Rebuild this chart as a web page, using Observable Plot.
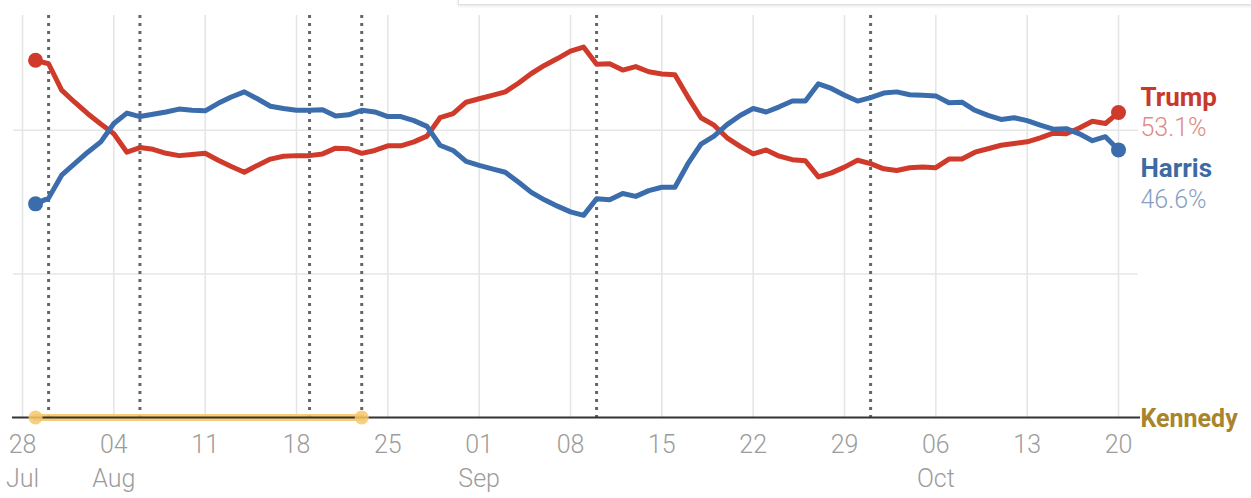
<!DOCTYPE html>
<html><head><meta charset="utf-8">
<script src="https://cdn.jsdelivr.net/npm/d3@7"></script>
<script src="https://cdn.jsdelivr.net/npm/@observablehq/plot@0.6"></script>
<style>
body{margin:0;background:#fff;font-family:Roboto,sans-serif;}
#wrap{position:relative;width:1251px;height:498px;overflow:hidden;background:#fff;}
#topbox{position:absolute;left:458px;top:-8px;width:820px;height:11px;border:1px solid #e2e2e2;background:#fff;box-shadow:0 1px 3px rgba(0,0,0,0.12);}
</style></head><body><div id="wrap"><div id="chart"></div><div id="topbox"></div></div>
<script>
// Daily values from 2024-07-29 to 2024-10-20 (%)
const firstDay = "2024-07-29";
const trump = [62.2,61.6,57.0,54.9,52.9,51.1,49.4,46.2,47.0,46.7,46.0,45.6,45.8,46.0,44.8,43.7,42.7,43.9,45.0,45.5,45.6,45.6,45.9,46.9,46.8,46.0,46.5,47.3,47.3,48.0,49.0,52.2,52.9,54.9,55.5,56.1,56.7,58.2,59.9,61.3,62.5,63.8,64.5,61.5,61.6,60.5,61.1,60.2,59.8,59.7,55.8,52.2,50.9,48.7,47.2,45.9,46.6,45.5,44.9,44.7,41.9,42.6,43.6,44.8,44.2,43.3,43.0,43.5,43.6,43.5,45.0,45.0,46.2,46.8,47.4,47.7,48.0,48.7,49.5,49.4,50.4,51.6,51.2,53.1];
const harris = [37.2,38.2,42.2,44.2,46.2,48.0,51.2,53.0,52.4,52.8,53.2,53.7,53.5,53.4,54.7,55.8,56.7,55.5,54.2,53.8,53.5,53.5,53.6,52.5,52.7,53.5,53.2,52.4,52.4,51.7,50.7,47.4,46.5,44.6,43.9,43.3,42.7,41.0,39.2,37.9,36.8,35.8,35.2,38.1,37.9,39.0,38.5,39.5,40.1,40.1,44.2,47.6,49.0,51.0,52.6,53.8,53.2,54.1,55.1,55.1,58.1,57.3,56.1,55.1,55.7,56.5,56.7,56.2,56.1,56.0,54.8,54.9,53.5,52.6,51.9,52.2,51.7,50.9,50.2,50.3,49.4,48.2,48.9,46.6];
const kennedyDates = ["2024-07-29","2024-08-23"];
const kennedyValues = [0,0];
const seriesNames = ["Trump","Harris","Kennedy"];
const seriesLabels = ["53.1%","46.6%"];
const tickDays = ["2024-07-28","2024-08-04","2024-08-11","2024-08-18","2024-08-25","2024-09-01","2024-09-08","2024-09-15","2024-09-22","2024-09-29","2024-10-06","2024-10-13","2024-10-20"];
const monthTickDays = ["2024-07-28","2024-08-04","2024-09-01","2024-10-06"];
const eventDays = ["2024-07-30","2024-08-06","2024-08-19","2024-08-23","2024-09-10","2024-10-01"];
const gridValues = [25,50];

const parse = d3.utcParse("%Y-%m-%d");
const RED = "#d03a2a", BLUE = "#3b6cab", GOLD = "#f6c86c";
const start = parse(firstDay);
const dates = trump.map((_, i) => d3.utcDay.offset(start, i));
const trumpRows = dates.map((d, i) => ({date: d, value: trump[i]}));
const harrisRows = dates.map((d, i) => ({date: d, value: harris[i]}));
const kennedyRows = kennedyDates.map((d, i) => ({date: parse(d), value: kennedyValues[i]}));
const ticks = tickDays.map(parse);
const monthTicks = monthTickDays.map(parse);
const events = eventDays.map(parse);
const tEnd = trumpRows[trumpRows.length - 1], hEnd = harrisRows[harrisRows.length - 1];
const kEnd = {date: tEnd.date, value: kennedyValues[kennedyValues.length - 1]};

const chart = Plot.plot({
  width: 1251, height: 498,
  marginLeft: 22, marginRight: 133, marginTop: 15, marginBottom: 81,
  style: {fontFamily: "Roboto, sans-serif", background: "transparent", overflow: "visible"},
  x: {type: "utc", domain: [ticks[0], ticks[ticks.length - 1]]},
  y: {domain: [0, 70], axis: null},
  marks: [
    Plot.ruleX(ticks, {stroke: "#e4e4e4", strokeWidth: 1.5}),
    Plot.ruleY(gridValues, {stroke: "#e6e6e6", strokeWidth: 1.5, insetLeft: -9, insetRight: -20}),
    Plot.ruleX(events, {stroke: "#666", strokeWidth: 3, strokeDasharray: "3,5"}),
    Plot.line(kennedyRows, {x: "date", y: "value", stroke: GOLD, strokeWidth: 7, strokeOpacity: 0.9}),
    Plot.ruleY([0], {stroke: "#333", strokeWidth: 2, insetLeft: -10, insetRight: -22}),
    Plot.dot(kennedyRows, {x: "date", y: "value", r: 7, fill: GOLD, fillOpacity: 0.85}),
    Plot.line(trumpRows, {x: "date", y: "value", stroke: RED, strokeWidth: 5, strokeLinejoin: "round"}),
    Plot.line(harrisRows, {x: "date", y: "value", stroke: BLUE, strokeWidth: 5, strokeLinejoin: "round"}),
    Plot.dot([trumpRows[0], tEnd], {x: "date", y: "value", r: 7.5, fill: RED}),
    Plot.dot([harrisRows[0], hEnd], {x: "date", y: "value", r: 7.5, fill: BLUE}),
    Plot.text([tEnd], {x: "date", y: "value", text: () => seriesNames[0], dx: 22, dy: -7, textAnchor: "start", lineAnchor: "bottom", fill: "#c9392b", fontSize: 26, fontWeight: "bold"}),
    Plot.text([tEnd], {x: "date", y: "value", text: () => seriesLabels[0], dx: 22, dy: 23, textAnchor: "start", lineAnchor: "bottom", fill: "#e08a84", fontSize: 25, fontWeight: 300}),
    Plot.text([hEnd], {x: "date", y: "value", text: () => seriesNames[1], dx: 22, dy: 27.5, textAnchor: "start", lineAnchor: "bottom", fill: "#3d6aa3", fontSize: 26, fontWeight: "bold"}),
    Plot.text([hEnd], {x: "date", y: "value", text: () => seriesLabels[1], dx: 22, dy: 58.5, textAnchor: "start", lineAnchor: "bottom", fill: "#87a0c2", fontSize: 25, fontWeight: 300}),
    Plot.text([kEnd], {x: "date", y: "value", text: () => seriesNames[2], dx: 22, dy: 9, textAnchor: "start", lineAnchor: "bottom", fill: "#a8852c", fontSize: 25, fontWeight: "bold", stroke: "white", strokeWidth: 3}),
    Plot.axisX({ticks: ticks, tickFormat: d3.utcFormat("%d"), tickSize: 0, tickPadding: 18, fontSize: 25, fontWeight: 300, color: "#9c9c9c", label: null}),
    Plot.axisX({ticks: monthTicks, tickFormat: d3.utcFormat("%b"), tickSize: 0, tickPadding: 52, fontSize: 25, fontWeight: 300, color: "#9c9c9c", label: null})
  ]
});
document.getElementById("chart").appendChild(chart);
</script>
</body></html>
